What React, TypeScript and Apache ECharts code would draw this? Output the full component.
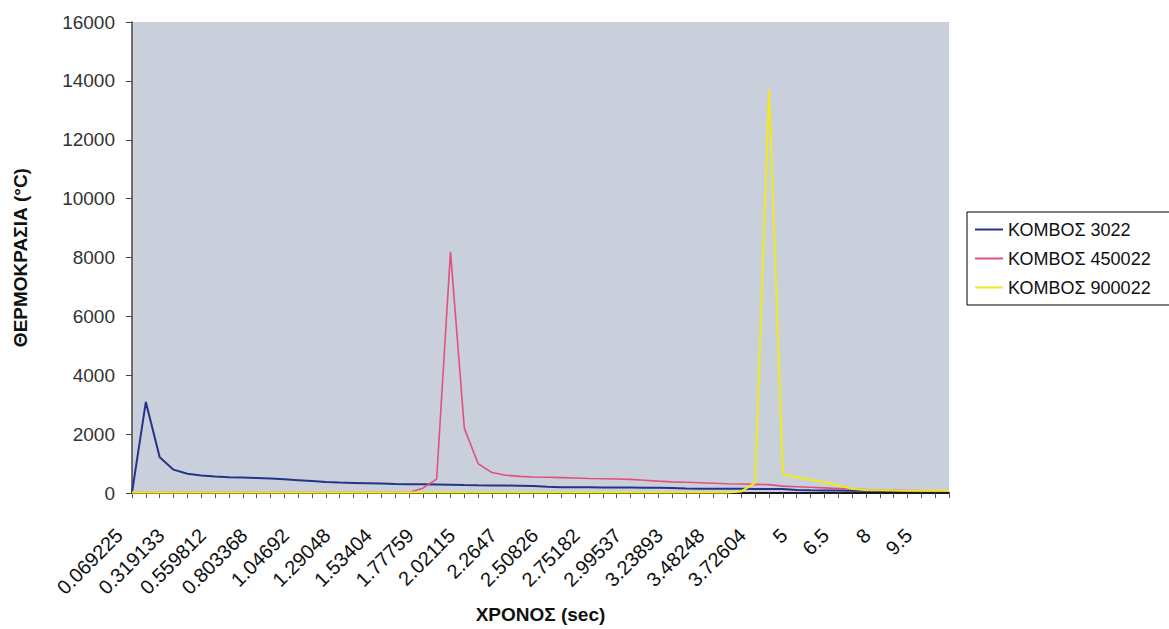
import React, { useEffect, useRef } from "react";
import * as echarts from "echarts";

const categories: string[] = [
  "0.069225", "0.152528", "0.235831", "0.319133", "0.39936", "0.479586",
  "0.559812", "0.641004", "0.722186", "0.803368", "0.884552", "0.965736",
  "1.04692", "1.12811", "1.2093", "1.29048", "1.37167", "1.45285",
  "1.53404", "1.61522", "1.69641", "1.77759", "1.85878", "1.93996",
  "2.02115", "2.10233", "2.18352", "2.2647", "2.34589", "2.42707",
  "2.50826", "2.58945", "2.67063", "2.75182", "2.833", "2.91419",
  "2.99537", "3.07656", "3.15774", "3.23893", "3.32011", "3.4013",
  "3.48248", "3.56367", "3.64485", "3.72604", "3.80722", "3.88841",
  "5", "5.5", "6", "6.5", "7", "7.5",
  "8", "8.5", "9", "9.5", "10", "10.5",
];

const node3022: number[] = [
  20, 3100, 1220, 800, 660, 600, 570, 545, 530, 515,
  500, 470, 440, 410, 380, 360, 350, 340, 330, 315,
  305, 300, 295, 290, 275, 268, 262, 258, 254, 245,
  215, 205, 200, 198, 195, 192, 190, 188, 185, 180,
  160, 155, 152, 150, 148, 145, 142, 140, 110, 100,
  95, 90, 85, 80, 78, 75, 72, 70, 68, 65,
];

const node450022: number[] = [
  20, 20, 20, 20, 20, 20, 20, 20, 20, 20,
  20, 20, 20, 20, 20, 20, 20, 20, 20, 20,
  20, 170, 480, 8200, 2200, 1000, 700, 610, 570, 550,
  540, 530, 515, 500, 490, 480, 470, 440, 410, 385,
  370, 355, 340, 320, 310, 300, 290, 240, 220, 200,
  180, 160, 140, 120, 110, 100, 90, 80, 75, 70,
];

const node900022: number[] = [
  20, 20, 20, 20, 20, 20, 20, 20, 20, 20,
  20, 20, 20, 20, 20, 20, 20, 20, 20, 20,
  20, 20, 20, 20, 20, 20, 20, 20, 20, 20,
  20, 20, 20, 20, 20, 20, 20, 20, 20, 20,
  20, 20, 20, 20, 60, 350, 13700, 640, 540, 460,
  370, 270, 150, 110, 100, 90, 85, 80, 80, 80,
];

const seriesNames: string[] = ["ΚΟΜΒΟΣ 3022", "ΚΟΜΒΟΣ 450022", "ΚΟΜΒΟΣ 900022"];
const seriesColors: string[] = ["#25338a", "#e2507c", "#f0ea1a"];

const FONT = "'Liberation Sans', Arial, sans-serif";
const LINE_ICON = "path://M0,0 L28,0 L28,2 L0,2 Z";

export default function App() {
  const ref = useRef<HTMLDivElement>(null);
  useEffect(() => {
    if (!ref.current) return;
    const chart = echarts.init(ref.current, null, { renderer: "svg" });
    const datasets = [node3022, node450022, node900022];
    chart.setOption({
      animation: false,
      backgroundColor: "#ffffff",
      textStyle: { fontFamily: FONT },
      grid: {
        left: 132,
        top: 22,
        width: 817,
        height: 472,
        show: true,
        backgroundColor: "#c9cfdb",
        borderWidth: 0,
      },
      legend: {
        orient: "vertical",
        left: 967,
        top: 212,
        padding: [8, 60, 8, 8],
        itemWidth: 28,
        itemHeight: 14,
        itemGap: 10,
        icon: LINE_ICON,
        borderColor: "#000",
        borderWidth: 1,
        backgroundColor: "#ffffff",
        textStyle: { fontSize: 18, color: "#111", fontFamily: FONT, lineHeight: 19 },
        data: seriesNames,
      },
      xAxis: {
        type: "category",
        boundaryGap: false,
        data: categories,
        name: "ΧΡΟΝΟΣ (sec)",
        nameLocation: "middle",
        nameGap: 110,
        nameTextStyle: { fontSize: 19, fontWeight: "bold", color: "#111", fontFamily: FONT },
        axisLine: { lineStyle: { color: "#1a1a1a", width: 2 } },
        axisTick: { show: true, interval: 0, length: 5, lineStyle: { color: "#555" } },
        axisLabel: {
          interval: 2,
          rotate: 45,
          fontSize: 20,
          color: "#111",
          margin: 26,
          padding: [0, 18, 0, 0],
          fontFamily: FONT,
        },
        splitLine: { show: false },
      },
      yAxis: {
        type: "value",
        min: 0,
        max: 16000,
        interval: 2000,
        name: "ΘΕΡΜΟΚΡΑΣΙΑ (°C)",
        nameLocation: "middle",
        nameGap: 102,
        nameTextStyle: { fontSize: 19, fontWeight: "bold", color: "#111", fontFamily: FONT },
        axisLine: { show: true, lineStyle: { color: "#444", width: 1.5 } },
        axisTick: { show: true, length: 6, lineStyle: { color: "#444" } },
        axisLabel: {
          fontSize: 19,
          color: "#333",
          margin: 17,
          fontFamily: FONT,
          formatter: (v: number) => String(v),
        },
        splitLine: { show: false },
      },
      series: datasets.map((d, i) => ({
        name: seriesNames[i],
        type: "line",
        data: d,
        symbol: "none",
        lineStyle: { color: seriesColors[i], width: i === 1 ? 1.6 : 2 },
        itemStyle: { color: seriesColors[i] },
      })),
    });
    return () => chart.dispose();
  }, []);
  return (
    <div
      ref={ref}
      style={{ position: "fixed", left: 0, top: 0, width: 1169, height: 629, background: "#fff" }}
    />
  );
}
